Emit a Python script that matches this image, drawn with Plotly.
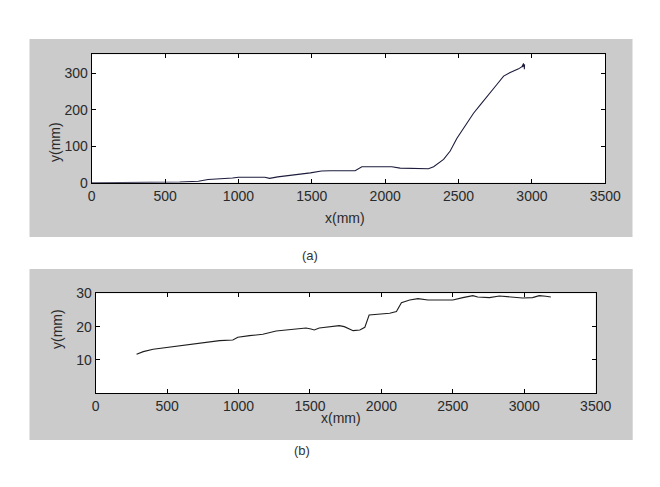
import plotly.graph_objects as go

# (a) trajectory
xa = [0, 250, 500, 600, 727, 793, 960, 1000, 1180, 1212, 1268, 1400, 1490, 1566, 1625, 1795, 1841,
      2045, 2102, 2295, 2330, 2398, 2443, 2489, 2534, 2602, 2648, 2716, 2761, 2807, 2852, 2909,
      2932, 2943, 2938, 2950, 2948]
ya = [0, 0, 1, 2, 4, 9, 13, 15, 15, 12, 16, 22, 27, 32, 33, 33, 44,
      44, 40, 38.5, 44, 64, 87, 122, 149, 191, 214, 246, 270, 293, 303, 313,
      319, 328, 318, 325, 312]

# (b) lateral deviation
xb = [286, 333, 402, 519, 635, 751, 867, 960, 995, 1077, 1170, 1263, 1379, 1472, 1507, 1530, 1565,
      1635, 1705, 1740, 1775, 1802, 1849, 1884, 1914, 1965, 2058, 2105, 2140, 2198, 2256, 2326,
      2500, 2570, 2640, 2674, 2756, 2826, 2895, 2988, 3058, 3105, 3151, 3186]
yb = [11.7, 12.5, 13.2, 13.8, 14.5, 15.2, 15.8, 16, 16.8, 17.3, 17.7, 18.7, 19.2, 19.6, 19.3, 19.0, 19.6,
      19.9, 20.3, 20.0, 19.3, 18.8, 19.0, 19.8, 23.5, 23.7, 24.0, 24.5, 27.2, 28.0, 28.4, 28.0,
      28.0, 28.7, 29.3, 28.9, 28.7, 29.2, 28.9, 28.6, 28.7, 29.3, 29.1, 28.9]

x_ticks = [0, 500, 1000, 1500, 2000, 2500, 3000, 3500]
ya_ticks = [0, 100, 200, 300]
yb_ticks = [10, 20, 30]

W, H = 660, 487
def px(v): return v / W
def py(v): return 1 - v / H

FONT = "Liberation Sans"
TXT = "#2a2a2a"
GRAY = "#cbcbcb"
FS = 14

fig = go.Figure()
fig.add_trace(go.Scatter(x=xa, y=ya, mode="lines", line=dict(color="#1c1c3c", width=1.1),
                         xaxis="x", yaxis="y", showlegend=False, hoverinfo="skip"))
fig.add_trace(go.Scatter(x=xb, y=yb, mode="lines", line=dict(color="#1e1e1e", width=1.1),
                         xaxis="x2", yaxis="y2", showlegend=False, hoverinfo="skip"))

axcommon = dict(showline=True, linecolor="black", linewidth=1, mirror="allticks", ticks="inside",
                ticklen=4, tickcolor="black", showgrid=False, zeroline=False, automargin=False,
                tickfont=dict(family=FONT, size=FS, color=TXT))

top_dom_x = [px(91.7), px(605.3)]
top_dom_y = [py(182.7), py(54.3)]
bot_dom_x = [px(95.7), px(595.7)]
bot_dom_y = [py(393.3), py(293.3)]

fig.update_layout(
    width=W, height=H, autosize=False, margin=dict(l=0, r=0, t=0, b=0, pad=0, autoexpand=False),
    paper_bgcolor="white", plot_bgcolor="rgba(0,0,0,0)",
    xaxis=dict(domain=top_dom_x, range=[0, 3500], tickvals=x_ticks, anchor="y", **axcommon),
    yaxis=dict(domain=top_dom_y, range=[0, 353], tickvals=ya_ticks, anchor="x", **axcommon),
    xaxis2=dict(domain=bot_dom_x, range=[0, 3500], tickvals=x_ticks, anchor="y2", **axcommon),
    yaxis2=dict(domain=bot_dom_y, range=[0, 30], tickvals=yb_ticks, anchor="x2", **axcommon),
    shapes=[
        dict(type="rect", xref="paper", yref="paper", x0=px(29.5), x1=px(632.5), y0=py(237), y1=py(39),
             fillcolor=GRAY, line=dict(width=0), layer="below"),
        dict(type="rect", xref="paper", yref="paper", x0=px(29.5), x1=px(632.7), y0=py(440), y1=py(269),
             fillcolor=GRAY, line=dict(width=0), layer="below"),
        dict(type="rect", xref="paper", yref="paper", x0=top_dom_x[0], x1=top_dom_x[1], y0=top_dom_y[0], y1=top_dom_y[1],
             fillcolor="white", line=dict(width=0), layer="below"),
        dict(type="rect", xref="paper", yref="paper", x0=bot_dom_x[0], x1=bot_dom_x[1], y0=bot_dom_y[0], y1=bot_dom_y[1],
             fillcolor="white", line=dict(width=0), layer="below"),
    ],
    annotations=[
        dict(text="x(mm)", x=px(345), y=py(218), xref="paper", yref="paper", showarrow=False,
             font=dict(family=FONT, size=FS, color=TXT)),
        dict(text="y(mm)", x=px(45), y=py(120), xref="paper", yref="paper", showarrow=False, textangle=-90,
             font=dict(family=FONT, size=FS, color=TXT)),
        dict(text="x(mm)", x=px(341), y=py(428), xref="paper", yref="paper", showarrow=False,
             font=dict(family=FONT, size=FS, color=TXT)),
        dict(text="y(mm)", x=px(47), y=py(351), xref="paper", yref="paper", showarrow=False, textangle=-90,
             font=dict(family=FONT, size=FS, color=TXT)),
        dict(text="(a)", x=px(310), y=py(255), xref="paper", yref="paper", showarrow=False,
             font=dict(family=FONT, size=13, color="#333333")),
        dict(text="(b)", x=px(302), y=py(460), xref="paper", yref="paper", showarrow=False,
             font=dict(family=FONT, size=13, color="#333333")),
    ],
)

fig.write_html("out.html", config={"displayModeBar": False},
               post_script="document.body.style.margin='0';document.body.style.overflow='hidden';")
